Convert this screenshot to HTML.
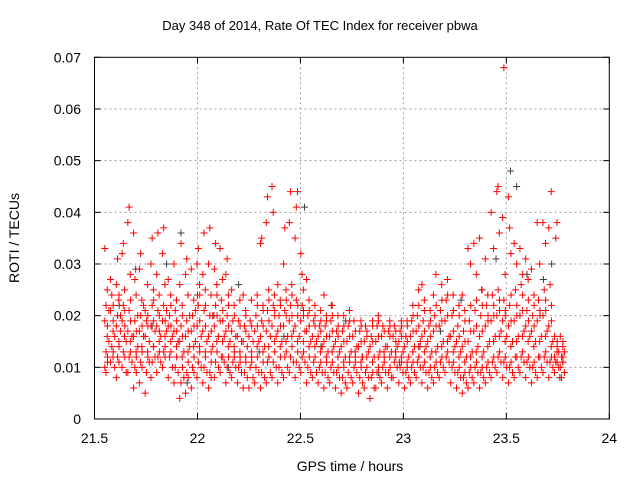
<!DOCTYPE html>
<html><head><meta charset="utf-8"><style>
body{margin:0;background:#fff}
svg{display:block;font-family:"Liberation Sans",sans-serif}
</style></head><body>
<svg id="c" width="640" height="480"></svg>
<script>
const xTicks=[21.5,22,22.5,23,23.5,24];
const yTicks=[0,0.01,0.02,0.03,0.04,0.05,0.06,0.07];
const yTickLabels=["0","0.01","0.02","0.03","0.04","0.05","0.06","0.07"];
const binStart=21.55, binStep=0.028;
const redVals=[
[.010,.013,.016,.019,.022,.025,.033,.009],
[.011,.014,.017,.021,.024,.012,.027],
[.008,.012,.015,.018,.020,.023,.026,.031],
[.010,.013,.016,.019,.022,.025,.032,.034],
[.009,.012,.015,.017,.021,.028,.038,.041],
[.006,.010,.013,.016,.019,.024,.036,.027],
[.007,.011,.014,.017,.020,.023,.029,.032],
[.005,.009,.013,.016,.019,.026,.021],
[.008,.011,.014,.018,.022,.025,.030,.035],
[.009,.012,.015,.018,.021,.024,.028,.036],
[.010,.013,.016,.019,.022,.026,.032,.037],
[.008,.012,.015,.018,.020,.024,.027],
[.007,.010,.014,.017,.021,.023,.030],
[.004,.007,.012,.015,.018,.022,.026,.034],
[.005,.009,.013,.016,.019,.024,.028,.031],
[.006,.010,.014,.017,.020,.023,.029],
[.008,.011,.014,.018,.022,.026,.030,.033],
[.007,.010,.013,.017,.021,.025,.028,.036],
[.006,.009,.013,.016,.020,.024,.030,.037],
[.008,.011,.015,.018,.022,.026,.029,.034],
[.009,.012,.015,.019,.023,.027,.033],
[.007,.010,.014,.017,.020,.024,.028,.031],
[.008,.011,.014,.017,.019,.022,.025],
[.007,.010,.013,.016,.019,.023],
[.006,.009,.012,.015,.018,.021,.024],
[.006,.010,.013,.016,.019,.023],
[.007,.010,.014,.017,.020,.024],
[.006,.009,.013,.016,.019,.022,.034,.035],
[.007,.011,.014,.017,.021,.025,.038,.043],
[.008,.011,.015,.018,.022,.024,.045,.040],
[.007,.010,.014,.017,.020,.023,.026],
[.008,.012,.015,.018,.021,.025,.030,.037],
[.009,.012,.016,.019,.022,.026,.038,.044],
[.008,.011,.015,.018,.023,.044,.035,.041],
[.009,.012,.015,.019,.022,.025,.032,.028],
[.007,.010,.014,.017,.020,.023,.027],
[.008,.011,.014,.016,.019,.022],
[.007,.010,.013,.016,.018,.021],
[.006,.009,.012,.015,.018,.020,.024],
[.007,.010,.013,.016,.019,.022],
[.006,.009,.012,.015,.017,.020],
[.005,.008,.011,.014,.017,.020],
[.006,.009,.012,.015,.018,.021],
[.007,.010,.013,.016,.019],
[.005,.008,.011,.014,.017,.019],
[.006,.009,.012,.015,.018],
[.004,.008,.011,.014,.016,.019],
[.006,.009,.012,.015,.018,.020],
[.007,.010,.013,.016,.018],
[.006,.009,.012,.014,.017,.019],
[.008,.011,.013,.016,.018],
[.007,.010,.012,.015,.017,.019],
[.006,.009,.011,.014,.016,.019],
[.007,.010,.013,.016,.019,.022],
[.008,.011,.014,.017,.020,.025],
[.007,.010,.013,.016,.019,.023,.026],
[.006,.009,.012,.015,.018,.021],
[.007,.010,.013,.017,.020,.028,.024],
[.008,.011,.014,.018,.021,.026],
[.009,.012,.015,.019,.023,.027],
[.007,.010,.013,.016,.020,.024],
[.006,.009,.012,.015,.018,.022],
[.005,.008,.011,.014,.017,.021,.024],
[.006,.009,.012,.015,.019,.030,.033],
[.007,.010,.013,.017,.021,.028,.034],
[.006,.009,.012,.016,.020,.025,.035],
[.007,.010,.014,.018,.022,.024,.031],
[.008,.011,.015,.019,.024,.033,.040],
[.009,.012,.016,.020,.025,.036,.044,.045],
[.008,.011,.015,.019,.023,.028,.039,.068],
[.007,.010,.014,.018,.022,.032,.043,.037],
[.008,.012,.015,.019,.025,.030,.034],
[.009,.012,.016,.020,.026,.028,.033],
[.008,.011,.015,.018,.021,.027,.031],
[.007,.010,.014,.017,.020,.024,.029],
[.008,.012,.015,.019,.023,.030,.038],
[.009,.012,.016,.020,.025,.034,.038],
[.008,.011,.014,.018,.026,.044,.037],
[.009,.011,.013,.016,.035,.038,.012],
[.010,.012,.014,.016,.008,.011]
];
const redVals2=[
[.012,.015,.018,.021,.011],[.013,.016,.019,.010,.022],[.014,.017,.011,.020,.024],[.012,.015,.018,.009,.021],
[.013,.016,.019,.011,.023],[.012,.014,.017,.020,.009],[.013,.016,.018,.022,.010],[.012,.015,.018,.011,.020],
[.014,.017,.019,.012,.023],[.013,.016,.020,.011,.017],[.014,.017,.012,.021,.019],[.013,.016,.018,.010,.022],
[.012,.015,.019,.009,.017],[.010,.013,.016,.008,.020],[.011,.014,.017,.020,.008],[.012,.015,.018,.021,.009],
[.013,.016,.019,.010,.024],[.012,.015,.018,.009,.022],[.011,.014,.017,.020,.008],[.013,.016,.020,.010,.024],
[.012,.016,.019,.011,.021],[.012,.015,.018,.009,.022],[.013,.016,.012,.010,.020],[.012,.015,.011,.009,.018],
[.011,.014,.017,.008,.020],[.012,.015,.011,.008,.018],[.012,.015,.018,.009,.022],[.011,.014,.018,.008,.021],
[.012,.016,.019,.009,.023],[.013,.016,.020,.010,.021],[.012,.015,.018,.009,.022],[.013,.016,.020,.010,.023],
[.014,.017,.020,.011,.024],[.013,.016,.020,.010,.022],[.013,.017,.020,.011,.021],[.012,.015,.018,.009,.021],
[.012,.015,.018,.009,.020],[.011,.014,.017,.009,.019],[.011,.013,.016,.008,.019],[.011,.014,.017,.009,.020],
[.010,.013,.016,.008,.018],[.010,.012,.015,.007,.018],[.011,.013,.016,.008,.019],[.011,.014,.017,.009,.012],
[.010,.012,.015,.007,.018],[.010,.013,.016,.008,.017],[.009,.012,.015,.006,.018],[.010,.013,.016,.008,.019],
[.011,.014,.017,.009,.012],[.010,.013,.016,.008,.018],[.012,.014,.017,.010,.015],[.011,.013,.016,.009,.018],
[.010,.012,.015,.008,.018],[.011,.014,.017,.009,.020],[.012,.015,.018,.010,.022],[.011,.014,.017,.009,.021],
[.010,.013,.016,.008,.019],[.011,.014,.018,.009,.022],[.012,.015,.019,.010,.023],[.013,.016,.020,.011,.024],
[.011,.014,.017,.009,.021],[.010,.013,.016,.008,.020],[.009,.012,.015,.007,.019],[.010,.013,.017,.008,.022],
[.011,.014,.018,.009,.023],[.010,.013,.017,.008,.022],[.011,.015,.019,.009,.020],[.012,.016,.020,.010,.022],
[.013,.017,.021,.011,.023],[.012,.016,.020,.010,.021],[.011,.015,.019,.009,.024],[.012,.016,.020,.010,.022],
[.013,.017,.021,.011,.024],[.012,.016,.019,.010,.023],[.011,.015,.018,.009,.022],[.012,.016,.020,.010,.021],
[.013,.017,.021,.011,.023],[.012,.015,.019,.010,.022],[.011,.013,.015,.010,.014],[.011,.013,.015,.009,.012]
];
const grayTimes=[21.62,21.7,21.78,21.85,21.92,22.0,22.08,22.2,22.3,22.42,22.52,22.6,22.72,22.8,22.88,22.98,23.08,23.18,23.28,23.38,23.45,23.52,23.55,23.6,23.68,23.72,23.76,21.95,22.15,22.65];
const grayVals=[.022,.029,.018,.030,.036,.024,.020,.026,.013,.016,.041,.014,.019,.012,.009,.011,.014,.017,.023,.025,.031,.048,.045,.028,.027,.030,.008,.007,.010,.022];
const X0=94.5,X1=609.3,Y0=419,Y1=57.3;
const xs=v=>X0+(v-21.5)/(24-21.5)*(X1-X0);
const ys=v=>Y0-(v/0.07)*(Y0-Y1);
const svg=document.getElementById('c');const NS='http://www.w3.org/2000/svg';
function mk(t,a){const e=document.createElementNS(NS,t);for(const k in a)e.setAttribute(k,a[k]);svg.appendChild(e);return e;}
let e=mk('text',{x:320,y:30,'text-anchor':'middle','font-size':13,fill:'#000'});e.textContent='Day 348 of 2014, Rate Of TEC Index for receiver pbwa';


xTicks.forEach((t,i)=>{const x=xs(t);
 if(i>0&&i<xTicks.length-1){const g=mk('line',{x1:x,x2:x,y1:Y1,y2:Y0,stroke:'#a0a0a0','stroke-dasharray':'2,3'});}
 mk('line',{x1:x,x2:x,y1:Y0,y2:Y0-6,stroke:'#000'});mk('line',{x1:x,x2:x,y1:Y1,y2:Y1+6,stroke:'#000'});
 const l=mk('text',{x:x,y:443,'text-anchor':'middle','font-size':14,fill:'#000'});l.textContent=String(t);
 
 });
yTicks.forEach((t,i)=>{const y=ys(t);
 if(i>0&&i<yTicks.length-1){const g=mk('line',{x1:X0,x2:X1,y1:y,y2:y,stroke:'#a0a0a0','stroke-dasharray':'2,3'});}
 mk('line',{x1:X0,x2:X0+6,y1:y,y2:y,stroke:'#000'});mk('line',{x1:X1,x2:X1-6,y1:y,y2:y,stroke:'#000'});
 const l=mk('text',{x:81,y:y+5,'text-anchor':'end','font-size':14,fill:'#000'});l.textContent=yTickLabels[i];
 
 });
function plus(x,y,c,name){const p=mk('path',{d:`M${x-3.5},${y}h7M${x},${y-3.5}v7`,stroke:c,'stroke-width':1});
 
 }
grayTimes.forEach((t,i)=>plus(xs(t),ys(grayVals[i]),'#404040','gray-point'));
redVals.forEach((arr,i)=>{arr.forEach((v,j)=>{const t=binStart+i*binStep+(j%3)*0.006;plus(xs(t),ys(v),'#ff0000','red-point');});});
redVals2.forEach((arr,i)=>{arr.forEach((v,j)=>{const t=binStart+i*binStep+0.013+(j%2)*0.007;plus(xs(t),ys(v),'#ff0000','red-point');});});
const fr=mk('rect',{x:X0,y:Y1,width:X1-X0,height:Y0-Y1,fill:'none',stroke:'#000','stroke-width':1});


e=mk('text',{x:350,y:471,'text-anchor':'middle','font-size':14,fill:'#000'});e.textContent='GPS time / hours';


e=mk('text',{x:0,y:0,'text-anchor':'middle','font-size':14,fill:'#000',transform:'translate(19,238) rotate(-90)'});e.textContent='ROTI / TECUs';


</script>
</body></html>
